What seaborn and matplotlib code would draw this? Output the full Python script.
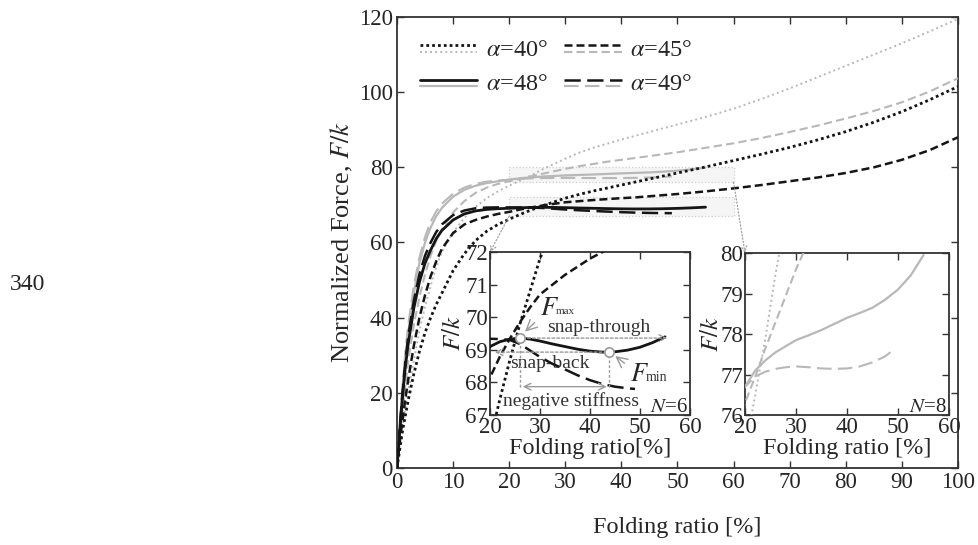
import matplotlib
matplotlib.use("Agg")
import matplotlib.pyplot as plt
import seaborn as sns
from matplotlib.legend_handler import HandlerBase
from matplotlib.lines import Line2D
from matplotlib.patches import Rectangle, ConnectionPatch

# folding ratio grids [%]
x_full = [0, 0.5, 1, 1.5, 2, 3, 4, 5, 6, 7, 8, 10, 12, 14, 16, 18, 20, 22, 24, 26, 28, 30,
          32.5, 35, 37.5, 40, 42.5, 45, 47.5, 50, 52.5, 55, 60, 65, 70, 75, 80, 85, 90, 95, 100]
x_to55 = [0, 0.5, 1, 1.5, 2, 3, 4, 5, 6, 7, 8, 10, 12, 14, 16, 18, 20, 22, 24, 26, 28, 30,
          32.5, 35, 37.5, 40, 42.5, 45, 47.5, 50, 52.5, 55]
x_to49 = [0, 0.5, 1, 1.5, 2, 3, 4, 5, 6, 7, 8, 10, 12, 14, 16, 18, 20, 22, 24, 26, 28, 30,
          32.5, 35, 37.5, 40, 42.5, 45, 47.5, 49]

# N=6 (black)
n6_a40 = [0, 5, 10, 14, 18, 25, 31, 36, 40, 43.5, 46.5, 52.5, 57, 60.5, 63.0, 64.8, 66.2, 67.5,
          68.7, 69.8, 70.8, 71.8, 72.8, 73.7, 74.5, 75.3, 76.1, 76.9, 77.7, 78.5, 79.3, 80.1,
          81.8, 83.5, 85.3, 87.3, 89.5, 92.0, 94.8, 98.0, 101.5]
n6_a45 = [0, 7, 13, 18.5, 23.5, 32.5, 40, 46, 51, 55, 58.3, 62.5, 64.8, 66.0, 66.9, 67.6, 68.15,
          68.8, 69.35, 69.85, 70.3, 70.7, 71.0, 71.3, 71.55, 71.8, 72.0, 72.3, 72.6, 72.9, 73.25,
          73.6, 74.4, 75.3, 76.3, 77.3, 78.5, 80.0, 82.0, 84.6, 88.0]
n6_a48 = [0, 10, 19, 27, 33, 42.5, 49.5, 54.5, 58, 61, 63.2, 66, 67.6, 68.4, 68.8, 69.0, 69.1,
          69.25, 69.33, 69.36, 69.33, 69.27, 69.18, 69.1, 69.02, 68.96, 68.93, 68.94, 68.99,
          69.08, 69.22, 69.4]
n6_a49 = [0, 11, 20.5, 28.5, 35, 44.5, 51.5, 56.5, 60, 62.8, 64.8, 67.3, 68.5, 69.1, 69.3, 69.35,
          69.34, 69.33, 69.3, 69.18, 68.98, 68.78, 68.57, 68.4, 68.22, 68.07, 67.95, 67.87,
          67.82, 67.8]

# N=8 (gray)
n8_a40 = [0, 6, 11, 16, 20.5, 28.5, 36.5, 43, 48.5, 53.5, 57.5, 62.7, 66.5, 69.5, 71.8, 73.6,
          75.1, 76.5, 77.9, 79.5, 80.9, 82.3, 83.9, 85.2, 86.3, 87.4, 88.4, 89.4, 90.4, 91.4,
          92.4, 93.4, 95.6, 98.2, 101.0, 104.0, 107.0, 110.0, 113.0, 116.2, 119.5]
n8_a45 = [0, 8, 15, 22, 28.5, 38, 45.5, 51.5, 56.5, 60.5, 63.5, 68, 71, 73.2, 74.6, 75.6, 76.3,
          76.95, 77.65, 78.3, 78.95, 79.6, 80.3, 80.9, 81.5, 82.0, 82.5, 83.0, 83.5, 84.0, 84.6,
          85.2, 86.4, 87.8, 89.4, 91.1, 93.0, 95.0, 97.3, 100.2, 103.7]
n8_a48 = [0, 11, 20.5, 29, 36, 46.5, 54.5, 60, 64, 67, 69.2, 72.2, 74, 75.1, 75.8, 76.3, 76.7,
          77.1, 77.35, 77.55, 77.7, 77.85, 77.97, 78.1, 78.25, 78.4, 78.52, 78.65, 78.85, 79.1,
          79.45, 79.95]
n8_a49 = [0, 12, 22, 31, 38, 48.5, 56, 61.5, 65.5, 68.3, 70.3, 73, 74.6, 75.6, 76.2, 76.5, 76.7,
          76.95, 77.07, 77.14, 77.18, 77.2, 77.18, 77.15, 77.14, 77.15, 77.2, 77.3, 77.45, 77.6]

# F_max / F_min points of the N=6, alpha=48 curve
peak_x = [26, 43.9]
peak_y = [69.36, 68.93]

alpha_labels = [r"$\alpha$=40°", r"$\alpha$=45°", r"$\alpha$=48°", r"$\alpha$=49°"]

sns.set_theme(style="ticks")
plt.rcParams["font.family"] = ["Liberation Serif", "DejaVu Serif"]
plt.rcParams["mathtext.fontset"] = "stix"

BLACK = "#151515"
GRAY = "#b8b8b8"
LINEGRAY = "#9a9a9a"
TICK = 16.5

styles_n6 = [(0, (1, 1.1)), (0, (3.2, 1.6)), "-", (0, (6.5, 2.6))]
styles_n8 = [(0, (1, 1.6)), (0, (4, 2)), "-", (0, (7, 3))]
lw_n6 = [2.0, 1.8, 2.0, 1.8]
lw_n8 = [1.4, 1.5, 1.6, 1.5]

xs = [x_full, x_full, x_to55, x_to49]
n6 = [n6_a40, n6_a45, n6_a48, n6_a49]
n8 = [n8_a40, n8_a45, n8_a48, n8_a49]


def draw_curves(ax, which):
    lines = []
    for i in range(4):
        if which in ("both", "n8"):
            sns.lineplot(x=xs[i], y=n8[i], ax=ax, color=GRAY, lw=lw_n8[i], zorder=3)
            ln = ax.lines[-1]
            ln.set_linestyle(styles_n8[i])
            lines.append(("n8", i, ln))
        if which in ("both", "n6"):
            sns.lineplot(x=xs[i], y=n6[i], ax=ax, color=BLACK, lw=lw_n6[i], zorder=4)
            ln = ax.lines[-1]
            ln.set_linestyle(styles_n6[i])
            lines.append(("n6", i, ln))
    return lines


def style_axes(ax):
    for s in ax.spines.values():
        s.set_color("#333333")
        s.set_linewidth(1.3)
    ax.tick_params(direction="in", top=True, right=True, length=5, width=1,
                   color="#333333", labelsize=TICK, pad=1.5)


class PairHandler(HandlerBase):
    def create_artists(self, legend, orig_handle, xdescent, ydescent, width, height,
                       fontsize, trans):
        out = []
        for line, frac in zip(orig_handle, (0.6, 0.2)):
            y = -ydescent + height * frac
            seg = Line2D([-xdescent, -xdescent + width], [y, y])
            seg.update_from(line)
            seg.set_transform(trans)
            out.append(seg)
        return out


fig = plt.figure(figsize=(9.79, 5.45), dpi=100)
fig.patch.set_facecolor("white")

ax = fig.add_axes([0.4055, 0.1413, 0.573, 0.8275])
main_lines = draw_curves(ax, "both")
ax.set_xlim(0, 100)
ax.set_ylim(0, 120)
ax.set_xticks(range(0, 101, 10))
ax.set_yticks(range(0, 121, 20))
style_axes(ax)
ax.tick_params(pad=3)
ax.set_xlabel("Folding ratio [%]", fontsize=17.5, labelpad=17)
ax.set_ylabel("Normalized Force, $F/k$", fontsize=19, labelpad=3)

# zoom boxes
for (y0, y1) in [(67, 72), (76, 80)]:
    ax.add_patch(Rectangle((20, y0), 40, y1 - y0, facecolor="#eeeeee", alpha=0.55,
                           edgecolor="#a8a8a8", lw=0.9, ls=":", zorder=2))

# legend with stacked black/gray samples
lk = {(g, i): l for g, i, l in main_lines}
handles = [(lk[("n6", i)], lk[("n8", i)]) for i in (0, 2, 1, 3)]
labels = [alpha_labels[i] for i in (0, 2, 1, 3)]
ax.legend(handles, labels, handler_map={tuple: PairHandler()}, ncol=2, frameon=False,
          loc="upper left", bbox_to_anchor=(0.041, 0.952), borderaxespad=0, borderpad=0,
          handlelength=2.35, handletextpad=0.35, columnspacing=0.7, labelspacing=0.5,
          fontsize=17.5)

# inset N=6
ins1 = fig.add_axes([0.5005, 0.2385, 0.2043, 0.299])
ins1.set_facecolor("white")
draw_curves(ins1, "n6")
ins1.set_xlim(20, 60)
ins1.set_ylim(67, 72)
ins1.set_xticks([20, 30, 40, 50, 60])
ins1.set_yticks([67, 68, 69, 70, 71, 72])
style_axes(ins1)
ins1.set_xlabel("Folding ratio[%]", fontsize=17.5, labelpad=0)
ins1.set_ylabel("$F/k$", fontsize=18, labelpad=0)

sns.scatterplot(x=peak_x, y=peak_y, ax=ins1, s=45, color="white", edgecolor=LINEGRAY,
                linewidth=1.2, zorder=6)
ins1.annotate("", xy=(56, peak_y[0]), xytext=(peak_x[0], peak_y[0]),
              arrowprops=dict(arrowstyle="->", color=LINEGRAY, lw=1, ls=(0, (2, 1.5))), zorder=5)
ins1.annotate("", xy=(20.4, peak_y[1]), xytext=(peak_x[1], peak_y[1]),
              arrowprops=dict(arrowstyle="->", color=LINEGRAY, lw=1, ls=(0, (2, 1.5))), zorder=5)
ins1.vlines(peak_x, [67.85, 67.85], peak_y, colors=LINEGRAY, lw=1, linestyles=(0, (2, 1.5)),
            zorder=5)
ins1.annotate("", xy=(peak_x[0], 67.87), xytext=(peak_x[1], 67.87),
              arrowprops=dict(arrowstyle="<->", color=LINEGRAY, lw=1), zorder=5)
# F_max / F_min labels with small subscripts
ins1.annotate("$F$", xy=(26.6, 69.5), xytext=(30.0, 70.08), fontsize=19,
              va="baseline", arrowprops=dict(arrowstyle="->", color=LINEGRAY, lw=1))
ins1.text(33.1, 70.1, "max", fontsize=8, va="baseline", color="#333333")
ins1.annotate("$F$", xy=(44.6, 68.86), xytext=(48.0, 68.05), fontsize=19,
              va="baseline", arrowprops=dict(arrowstyle="->", color=LINEGRAY, lw=1))
ins1.text(51.2, 68.05, "min", fontsize=10, va="baseline", color="#333333")
ins1.text(41.8, 69.55, "snap-through", fontsize=14, ha="center", va="baseline", color="#333333")
ins1.text(32, 68.45, "snap-back", fontsize=14, ha="center", va="baseline", color="#333333")
ins1.text(36.2, 67.28, "negative stiffness", fontsize=14, ha="center", va="baseline",
          color="#333333")
ins1.text(59.5, 67.08, "$N$=6", fontsize=15, ha="right", va="baseline")

# inset N=8
ins2 = fig.add_axes([0.761, 0.2385, 0.2084, 0.2972])
ins2.set_facecolor("white")
draw_curves(ins2, "n8")
ins2.set_xlim(20, 60)
ins2.set_ylim(76, 80)
ins2.set_xticks([20, 30, 40, 50, 60])
ins2.set_yticks([76, 77, 78, 79, 80])
style_axes(ins2)
ins2.set_xlabel("Folding ratio [%]", fontsize=17.5, labelpad=0)
ins2.set_ylabel("$F/k$", fontsize=18, labelpad=-2)
ins2.text(59.5, 76.08, "$N$=8", fontsize=15, ha="right", va="baseline")

# connectors from zoom boxes to the insets
for xy, inset in [((20, 67), ins1), ((60, 76), ins2)]:
    con = ConnectionPatch(xyA=xy, coordsA=ax.transData, xyB=(0, 1), coordsB=inset.transAxes,
                          arrowstyle="->", color="#a0a0a0", lw=0.9, ls=":")
    fig.add_artist(con)

fig.text(10 / 979, 1 - 285 / 545, "340", fontsize=17, va="center", ha="left")

fig.savefig("out.png", dpi=100, facecolor="white")
